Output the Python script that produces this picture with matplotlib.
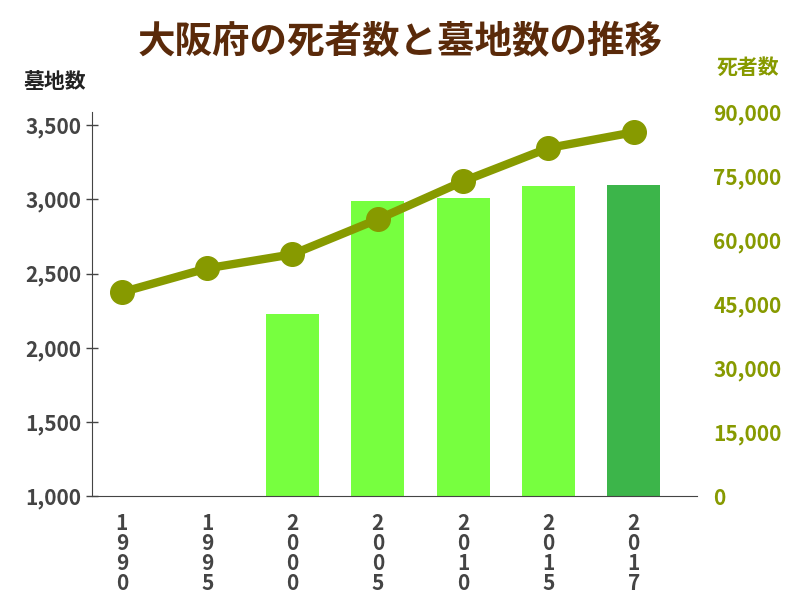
import matplotlib
matplotlib.use("Agg")
import matplotlib.pyplot as plt
from matplotlib.ticker import FuncFormatter

plt.rcParams['font.family'] = ['Noto Sans CJK JP', 'DejaVu Sans']
plt.rcParams['font.weight'] = 'bold'

years = ["1990", "1995", "2000", "2005", "2010", "2015", "2017"]
graves = [None, None, 2226, 2990, 3008, 3090, 3097]
deaths = [47800, 53400, 56700, 64900, 73800, 81600, 85300]
bar_colors = ["#77ff3f"] * 6 + ["#3cb54a"]

fig = plt.figure(figsize=(8, 6), dpi=100)
ax = fig.add_axes([0.115, 0.173, 0.756, 0.64])
x = list(range(len(years)))
for i, v in enumerate(graves):
    if v is not None:
        ax.bar(i, v - 1000, bottom=1000, width=0.62, color=bar_colors[i], zorder=1)
ax.set_xlim(-0.35, 6.74)
ax.set_ylim(1000, 3588)
ax.set_yticks([1000, 1500, 2000, 2500, 3000, 3500])
ax.yaxis.set_major_formatter(FuncFormatter(lambda v, p: f"{int(v):,}"))
ax.set_xticks(x)
ax.set_xticklabels(["\n".join(y) for y in years], linespacing=0.95)
ax.tick_params(axis='x', length=0, labelsize=15, colors='#444444', pad=12)
ax.tick_params(axis='y', length=8, direction='inout', labelsize=15, colors='#444444', width=1)
for s in ['top', 'right']:
    ax.spines[s].set_visible(False)
ax.spines['left'].set_color('#444444')
ax.spines['bottom'].set_color('#444444')

ax2 = ax.twinx()
ax2.plot(x, deaths, color='#879a00', lw=6, marker='o', ms=17, zorder=3)
ax2.set_ylim(0, 90000)
ax2.set_yticks([0, 15000, 30000, 45000, 60000, 75000, 90000])
ax2.yaxis.set_major_formatter(FuncFormatter(lambda v, p: f"{int(v):,}"))
ax2.tick_params(axis='y', length=0, labelsize=15, colors='#879a00', pad=12)
for s in ['top', 'right', 'left', 'bottom']:
    ax2.spines[s].set_visible(False)

fig.text(0.5, 0.93, "大阪府の死者数と墓地数の推移", ha='center', va='center',
         fontsize=27, fontweight='bold', color='#5a2a0a')
fig.text(0.03, 0.865, "墓地数", ha='left', va='center', fontsize=15, fontweight='bold', color='#222222')
fig.text(0.935, 0.888, "死者数", ha='center', va='center', fontsize=15, fontweight='bold', color='#879a00')

fig.savefig("out.png", dpi=100)
